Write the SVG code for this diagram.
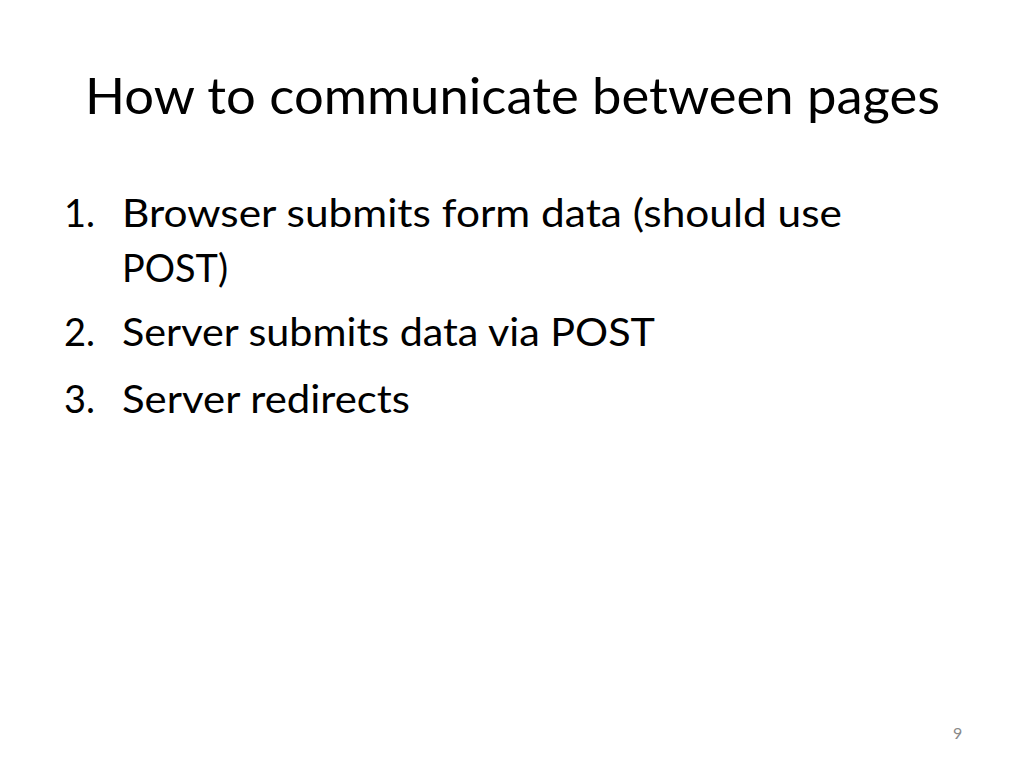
<svg xmlns="http://www.w3.org/2000/svg" width="1024" height="768" viewBox="0 0 1024 768">
<style>
text{font-family:Lato,"Open Sans","Liberation Sans",sans-serif;fill:#000}
.t{font-size:51px}
.b{font-size:38px}
.n{font-size:16px;fill:#898989}
</style>
<rect width="1024" height="768" fill="#fff"/>
<g id="title"><text class="t" x="85" y="114" textLength="855" lengthAdjust="spacingAndGlyphs">How to communicate between pages</text></g>
<g id="item1">
<text class="b" x="64" y="227">1.</text>
<text class="b" x="122" y="227" textLength="720" lengthAdjust="spacingAndGlyphs">Browser submits form data (should use</text>
<text class="b" x="122" y="282" textLength="106" lengthAdjust="spacingAndGlyphs">POST)</text>
</g>
<g id="item2">
<text class="b" x="64" y="346">2.</text>
<text class="b" x="122" y="346" textLength="533" lengthAdjust="spacingAndGlyphs">Server submits data via POST</text>
</g>
<g id="item3">
<text class="b" x="64" y="413">3.</text>
<text class="b" x="122" y="413" textLength="288" lengthAdjust="spacingAndGlyphs">Server redirects</text>
</g>
<g id="pagenum"><text class="n" x="953" y="739">9</text></g>
</svg>
